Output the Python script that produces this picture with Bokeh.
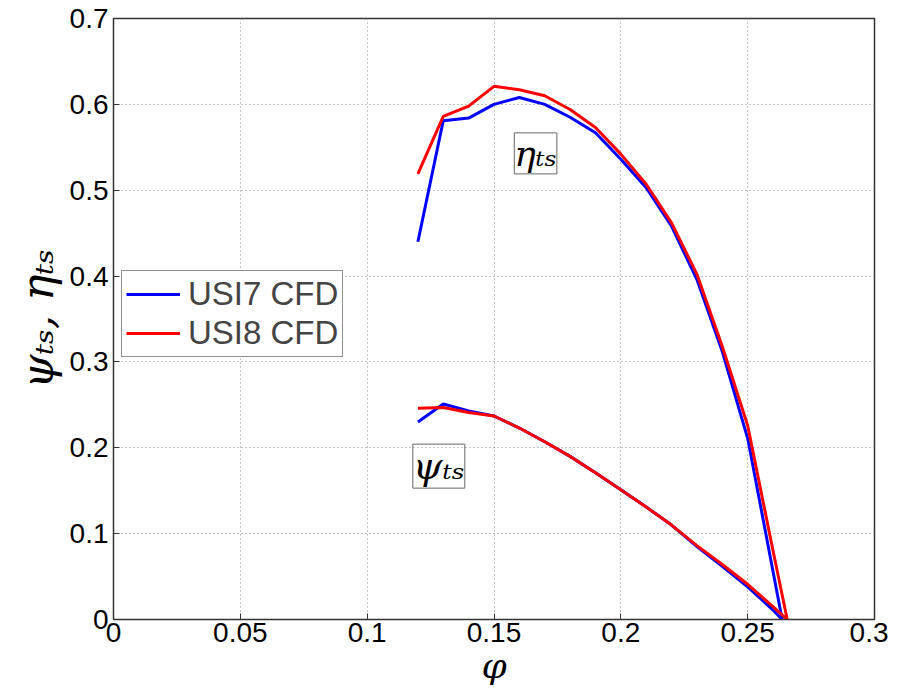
from bokeh.plotting import figure
from bokeh.models import Label, Legend, LegendItem, Range1d, FixedTicker
from bokeh.embed import file_html
from bokeh.resources import INLINE

# ---- data ----
phi_usi7 = [0.12, 0.13, 0.14, 0.15, 0.16, 0.17, 0.18, 0.19, 0.20, 0.21, 0.22, 0.23, 0.24, 0.25, 0.26, 0.2636]
eta_usi7 = [0.440, 0.581, 0.584, 0.600, 0.608, 0.600, 0.585, 0.567, 0.536, 0.503, 0.458, 0.396, 0.312, 0.211, 0.056, 0.0]
psi_usi7 = [0.230, 0.251, 0.243, 0.237, 0.223, 0.207, 0.190, 0.171, 0.151, 0.131, 0.110, 0.085, 0.062, 0.038, 0.011, 0.0]

phi_usi8 = [0.12, 0.13, 0.14, 0.15, 0.16, 0.17, 0.18, 0.19, 0.20, 0.21, 0.22, 0.23, 0.24, 0.25, 0.26, 0.2656]
eta_usi8 = [0.519, 0.586, 0.598, 0.621, 0.617, 0.610, 0.594, 0.573, 0.542, 0.507, 0.462, 0.402, 0.318, 0.226, 0.080, 0.0]
psi_usi8 = [0.246, 0.247, 0.241, 0.237, 0.223, 0.207, 0.190, 0.171, 0.151, 0.131, 0.110, 0.086, 0.064, 0.041, 0.015, 0.0]

x_ticks = [0, 0.05, 0.1, 0.15, 0.2, 0.25, 0.3]
y_ticks = [0, 0.1, 0.2, 0.3, 0.4, 0.5, 0.6, 0.7]
series_names = ["USI7 CFD", "USI8 CFD"]
series_colors = ["#0000ff", "#ff0000"]

p = figure(frame_width=761, frame_height=601, output_backend="svg", toolbar_location=None,
           x_range=Range1d(0, 0.3), y_range=Range1d(0, 0.7),
           min_border_left=113, min_border_top=18, min_border_right=14, min_border_bottom=10)

p.outline_line_color = "#333333"
p.outline_line_width = 1.5

xax = p.xaxis[0]
yax = p.yaxis[0]
for ax in (xax, yax):
    ax.axis_line_color = "#333333"
    ax.major_tick_in = 6
    ax.major_tick_out = 0
    ax.minor_tick_line_color = None
    ax.major_tick_line_color = "#333333"
    ax.major_label_text_font = "Liberation Sans"
    ax.major_label_text_font_size = "28px"
    ax.major_label_text_color = "black"
    ax.axis_label_text_font = "DejaVu Serif"
    ax.axis_label_text_font_style = "italic"
    ax.axis_label_text_color = "black"

xax.ticker = FixedTicker(ticks=x_ticks)
yax.ticker = FixedTicker(ticks=y_ticks)
xax.major_label_overrides = {t: ("0" if t == 0 else ("%g" % t)) for t in x_ticks}
yax.major_label_overrides = {t: ("0" if t == 0 else ("%g" % t)) for t in y_ticks}
xax.major_label_standoff = 3
yax.major_label_standoff = 5
xax.axis_label = "φ"
xax.axis_label_text_font_size = "36px"
xax.axis_label_standoff = 0
yax.axis_label = "ψₜₛ, ηₜₛ"
yax.axis_label_text_font_size = "44px"
yax.axis_label_standoff = 4

p.xgrid.ticker = FixedTicker(ticks=x_ticks)
p.ygrid.ticker = FixedTicker(ticks=y_ticks)
for g in (p.xgrid, p.ygrid):
    g.grid_line_color = "#888888"
    g.grid_line_dash = "1 3"
    g.grid_line_width = 1

r7e = p.line(phi_usi7, eta_usi7, line_color=series_colors[0], line_width=3)
r7p = p.line(phi_usi7, psi_usi7, line_color=series_colors[0], line_width=3)
r8e = p.line(phi_usi8, eta_usi8, line_color=series_colors[1], line_width=3)
r8p = p.line(phi_usi8, psi_usi8, line_color=series_colors[1], line_width=3)

legend = Legend(items=[LegendItem(label=series_names[0], renderers=[r7e]),
                       LegendItem(label=series_names[1], renderers=[r8e])],
                location=(8, 262))
legend.label_text_font = "Liberation Sans"
legend.label_text_font_size = "33px"
legend.label_height = 30
legend.glyph_width = 54
legend.glyph_height = 28
legend.label_standoff = 8
legend.spacing = 1
legend.padding = 4
legend.margin = 0
legend.border_line_color = "#222222"
legend.border_line_width = 1
legend.background_fill_alpha = 1.0
p.add_layout(legend, "center")

eta_lbl = Label(x=0.158, y=0.519, text="ηₜₛ", text_font="DejaVu Serif",
                text_font_style="italic", text_font_size="36px", text_color="black",
                border_line_color="#666666", border_line_width=1, padding=0)
psi_lbl = Label(x=0.118, y=0.153, text="ψₜₛ", text_font="DejaVu Serif",
                text_font_style="italic", text_font_size="38px", text_color="black",
                border_line_color="#666666", border_line_width=1, padding=0)
p.add_layout(eta_lbl)
p.add_layout(psi_lbl)

open("out.html", "w").write(file_html(p, INLINE))
